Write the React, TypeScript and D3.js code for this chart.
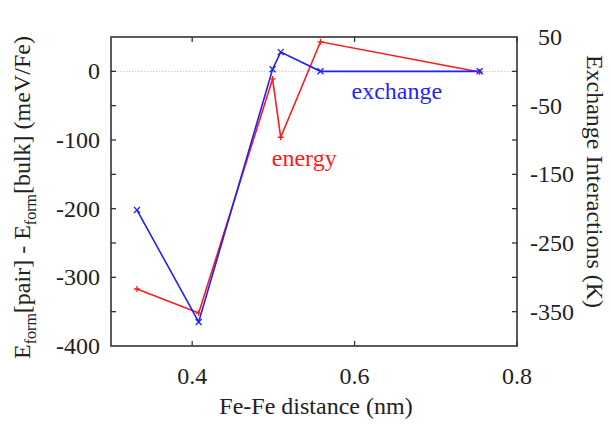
import React from "react";
import * as d3 from "d3";

const distance = [0.332, 0.408, 0.499, 0.509, 0.558, 0.754];
const energy = [-317, -352, -11, -96, 43, -1];
const exchange = [-202, -365, 3, 28, 0, 0];
const xTicks = [0.4, 0.6, 0.8];
const yLeftLabels = [0, -100, -200, -300, -400];
const yRightLabels = [50, -50, -150, -250, -350];
const yMinorTicks = [0, -50, -100, -150, -200, -250, -300, -350];

const W = 611, H = 424;
const L = 111, R = 517, T = 37, B = 346;
const FONT = "'Liberation Serif', 'Times New Roman', Times, 'DejaVu Serif', serif";

export default function App() {
  const x = d3.scaleLinear().domain([0.3, 0.8]).range([L, R]);
  const y = d3.scaleLinear().domain([-400, 50]).range([B, T]);
  const line = d3.line<number>().x((_, i) => x(distance[i])).y((d) => y(d));
  const red = "#ff1a1a";
  const blue = "#1f1fff";
  const tk = 5;
  const ts = { fontFamily: FONT };
  return (
    <svg width={W} height={H} style={{ position: "absolute", left: 0, top: 0, background: "#fff", fontFamily: FONT }}>
      <line x1={L} x2={R} y1={y(0)} y2={y(0)} stroke="#c8c8c8" strokeWidth={1} strokeDasharray="1.5,1.5" />
      {yMinorTicks.map((v) => (
        <g key={"yt" + v}>
          <line x1={L} x2={L + tk} y1={y(v)} y2={y(v)} stroke="#333" strokeWidth={1.3} />
          <line x1={R} x2={R - tk} y1={y(v)} y2={y(v)} stroke="#333" strokeWidth={1.3} />
        </g>
      ))}
      {xTicks.map((v) => (
        <g key={"xt" + v}>
          <line x1={x(v)} x2={x(v)} y1={B} y2={B - tk} stroke="#333" strokeWidth={1.3} />
          <line x1={x(v)} x2={x(v)} y1={T} y2={T + tk} stroke="#333" strokeWidth={1.3} />
        </g>
      ))}
      <rect x={L} y={T} width={R - L} height={B - T} fill="none" stroke="#333" strokeWidth={1.6} />
      <path d={line(energy) || ""} fill="none" stroke={red} strokeWidth={1.6} />
      <path d={line(exchange) || ""} fill="none" stroke={blue} strokeWidth={1.6} />
      {energy.map((v, i) => {
        const cx = x(distance[i]), cy = y(v);
        return (
          <path key={"em" + i} d={`M${cx - 3},${cy}H${cx + 3}M${cx},${cy - 3}V${cy + 3}`} stroke={red} strokeWidth={1.3} />
        );
      })}
      {exchange.map((v, i) => {
        const cx = x(distance[i]), cy = y(v);
        return (
          <path key={"xm" + i} d={`M${cx - 3},${cy - 3}L${cx + 3},${cy + 3}M${cx - 3},${cy + 3}L${cx + 3},${cy - 3}`} stroke={blue} strokeWidth={1.3} />
        );
      })}
      <text style={ts} x={x(0.652)} y={y(-40)} fontSize={24} fill={blue} textAnchor="middle">exchange</text>
      <text style={ts} x={x(0.538)} y={y(-138)} fontSize={24} fill={red} textAnchor="middle">energy</text>
      {yLeftLabels.map((v) => (
        <text style={ts} key={"yl" + v} x={100} y={y(v) + 8} fontSize={24} textAnchor="end" fill="#222">{v}</text>
      ))}
      {yRightLabels.map((v) => (
        <text style={ts} key={"yr" + v} x={v < 0 ? 530 : 538} y={y(v) + 8} fontSize={24} textAnchor="start" fill="#222">{v}</text>
      ))}
      {xTicks.map((v) => (
        <text style={ts} key={"xl" + v} x={x(v)} y={384} fontSize={24} textAnchor="middle" fill="#222">{v.toFixed(1)}</text>
      ))}
      <text style={ts} x={316} y={414} fontSize={24} textAnchor="middle" fill="#222">Fe-Fe distance (nm)</text>
      <text style={ts} transform={`translate(30,${(T + B) / 2 + 6}) rotate(-90)`} fontSize={24} textAnchor="middle" fill="#222">
        E<tspan fontSize={16} dy={6}>form</tspan><tspan dy={-6}>[pair] - E</tspan><tspan fontSize={16} dy={6}>form</tspan><tspan dy={-6}>[bulk] (meV/Fe)</tspan>
      </text>
      <text style={ts} transform={`translate(587,${(T + B) / 2 - 10}) rotate(90)`} fontSize={24} textAnchor="middle" fill="#222">Exchange Interactions (K)</text>
    </svg>
  );
}
